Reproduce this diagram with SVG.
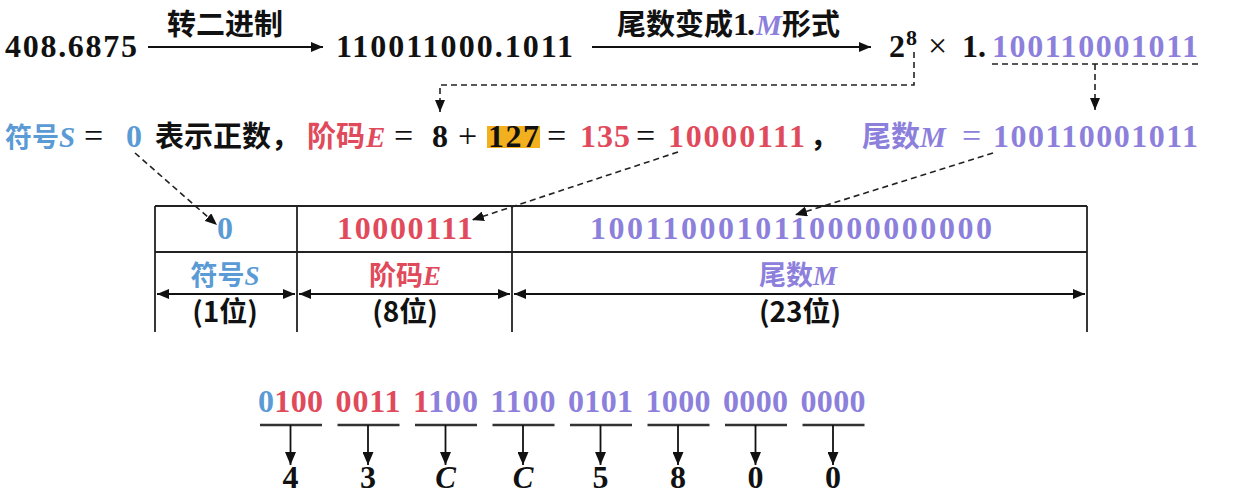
<svg xmlns="http://www.w3.org/2000/svg" width="1243" height="500" viewBox="0 0 1243 500">
<style>
.num{font-family:"Liberation Serif","DejaVu Serif",serif;font-weight:bold;font-size:32px;fill:#111}
.op{font-family:"Liberation Serif","DejaVu Serif",serif;font-size:34px;fill:#111}
.it{font-family:"Liberation Serif","DejaVu Serif",serif;font-style:italic;font-weight:bold;font-size:29px}
.cjk{font-family:"Noto Sans CJK SC","Noto Sans",sans-serif;font-weight:bold;font-size:29px;fill:#111}
.lab{font-family:"Noto Sans CJK SC","Noto Sans",sans-serif;font-weight:bold;font-size:27px}
.blue{fill:#5B9BD5}
.red{fill:#E04A5B}
.pur{fill:#8C80DC}
.blk{fill:#111}
.solid{stroke:#111;stroke-width:1.8;fill:none}
.dash{stroke:#222;stroke-width:1.6;fill:none;stroke-dasharray:6 4}
.tbl{stroke:#222;stroke-width:1.8;fill:none}
.ul{stroke:#333;stroke-width:2.4}
</style>
<defs>
<marker id="ah" viewBox="0 0 12 10" refX="12" refY="5" markerWidth="12" markerHeight="10" markerUnits="userSpaceOnUse" orient="auto-start-reverse"><path d="M0,0 L12,5 L0,10 z" fill="#111"/></marker>
<marker id="ahb" viewBox="0 0 13 11" refX="13" refY="5.5" markerWidth="13" markerHeight="11" markerUnits="userSpaceOnUse" orient="auto"><path d="M0,0 L13,5.5 L0,11 z" fill="#111"/></marker>
</defs>

<g id="row1">
<text class="num" x="5" y="57" textLength="132">408.6875</text>
<text class="cjk" x="225" y="35" text-anchor="middle">转二进制</text>
<text class="num" x="336" y="57" textLength="237">110011000.1011</text>
<text class="cjk" x="617" y="35">尾数变成</text>
<text class="num" x="733" y="35" textLength="22">1.</text>
<text class="it pur" x="756" y="35">M</text>
<text class="cjk" x="782" y="35">形式</text>
<text class="num" x="889" y="57">2</text>
<text class="num" x="906" y="45" style="font-size:22px">8</text>
<text class="op" x="928" y="57">×</text>
<text class="num" x="962" y="57" textLength="24">1.</text>
<text class="num pur" x="992" y="57" textLength="206">100110001011</text>
</g>

<g id="row2">
<text class="cjk blue" x="5" y="147" style="font-size:27px">符号</text>
<text class="it blue" x="59" y="147">S</text>
<text class="op" x="84" y="147">=</text>
<text class="num blue" x="126" y="147">0</text>
<text class="cjk" x="155" y="147">表示正数，</text>
<text class="cjk red" x="307" y="147">阶码</text>
<text class="it red" x="366" y="147">E</text>
<text class="op" x="394" y="147">=</text>
<text class="num" x="432" y="147">8</text>
<text class="op" x="458" y="147">+</text>
<rect x="487" y="126" width="53" height="22" fill="#F2B01E"/>
<text class="num" x="488" y="147" textLength="51">127</text>
<text class="op" x="547" y="147">=</text>
<text class="num red" x="580" y="147" textLength="50">135</text>
<text class="op" x="636" y="147">=</text>
<text class="num red" x="668" y="147" textLength="137">10000111</text>
<text class="cjk" x="810" y="147">，</text>
<text class="cjk pur" x="862" y="147">尾数</text>
<text class="it pur" x="920" y="147">M</text>
<text class="op pur" x="962" y="147">=</text>
<text class="num pur" x="993" y="147" textLength="205">100110001011</text>
</g>

<g id="table">
<line class="tbl" x1="155" y1="206" x2="1087" y2="206"/>
<line class="tbl" x1="155" y1="252" x2="1087" y2="252"/>
<line class="tbl" x1="155" y1="206" x2="155" y2="332"/>
<line class="tbl" x1="297" y1="206" x2="297" y2="332"/>
<line class="tbl" x1="512" y1="206" x2="512" y2="332"/>
<line class="tbl" x1="1087" y1="206" x2="1087" y2="332"/>
<text class="num blue" x="225" y="239" text-anchor="middle">0</text>
<text class="num red" x="337" y="239" textLength="136">10000111</text>
<text class="num pur" x="590" y="239" textLength="402">1001100010110000000000</text>
<text class="lab blue" x="225" y="285" text-anchor="middle">符号<tspan class="it" style="font-size:27px">S</tspan></text>
<text class="lab red" x="405" y="285" text-anchor="middle">阶码<tspan class="it" style="font-size:27px">E</tspan></text>
<text class="lab pur" x="798" y="285" text-anchor="middle">尾数<tspan class="it" style="font-size:27px">M</tspan></text>
<text class="lab blk" x="225" y="322" text-anchor="middle" style="font-size:28px">(1位)</text>
<text class="lab blk" x="405" y="322" text-anchor="middle" style="font-size:28px">(8位)</text>
<text class="lab blk" x="800" y="322" text-anchor="middle" style="font-size:28px">(23位)</text>
</g>

<g id="bits">
<text class="num" x="258" y="412" textLength="65"><tspan class="blue">0</tspan><tspan class="red">100</tspan></text>
<text class="num red" x="335.5" y="412" textLength="65">0011</text>
<text class="num" x="413" y="412" textLength="65"><tspan class="red">1</tspan><tspan class="pur">100</tspan></text>
<text class="num pur" x="490.5" y="412" textLength="65">1100</text>
<text class="num pur" x="568" y="412" textLength="65">0101</text>
<text class="num pur" x="645.5" y="412" textLength="65">1000</text>
<text class="num pur" x="723" y="412" textLength="65">0000</text>
<text class="num pur" x="800.5" y="412" textLength="65">0000</text>
</g>

<g id="hex">
<text class="num" x="290.5" y="488" text-anchor="middle">4</text>
<text class="num" x="368" y="488" text-anchor="middle">3</text>
<text class="it blk" x="445.5" y="488" text-anchor="middle" style="font-size:31px">C</text>
<text class="it blk" x="523" y="488" text-anchor="middle" style="font-size:31px">C</text>
<text class="num" x="600.5" y="488" text-anchor="middle">5</text>
<text class="num" x="678" y="488" text-anchor="middle">8</text>
<text class="num" x="755.5" y="488" text-anchor="middle">0</text>
<text class="num" x="833" y="488" text-anchor="middle">0</text>
</g>

<g id="connectors">
<line class="solid" x1="148" y1="47" x2="323" y2="47" marker-end="url(#ah)"/>
<line class="solid" x1="592" y1="47" x2="871" y2="47" marker-end="url(#ah)"/>
<polyline class="dash" points="914,52 914,85 440,85 440,112" marker-end="url(#ah)"/>
<line class="dash" x1="992" y1="64" x2="1198" y2="64"/>
<line class="dash" x1="1095" y1="64" x2="1095" y2="110" marker-end="url(#ah)"/>
<line class="dash" x1="135" y1="153" x2="217" y2="225" marker-end="url(#ah)"/>
<line class="dash" x1="678" y1="152" x2="472" y2="220" marker-end="url(#ah)"/>
<line class="dash" x1="993" y1="153" x2="795" y2="215" marker-end="url(#ah)"/>
<line class="solid" x1="157" y1="294" x2="295" y2="294" marker-start="url(#ah)" marker-end="url(#ah)"/>
<line class="solid" x1="299" y1="294" x2="510" y2="294" marker-start="url(#ah)" marker-end="url(#ah)"/>
<line class="solid" x1="514" y1="294" x2="1085" y2="294" marker-start="url(#ah)" marker-end="url(#ah)"/>
<g class="ul">
<line x1="260" y1="425" x2="322" y2="425"/>
<line x1="337.5" y1="425" x2="399.5" y2="425"/>
<line x1="415" y1="425" x2="477" y2="425"/>
<line x1="492.5" y1="425" x2="554.5" y2="425"/>
<line x1="570" y1="425" x2="632" y2="425"/>
<line x1="647.5" y1="425" x2="709.5" y2="425"/>
<line x1="725" y1="425" x2="787" y2="425"/>
<line x1="802.5" y1="425" x2="864.5" y2="425"/>
</g>
<line class="solid" x1="290.5" y1="425" x2="290.5" y2="465" marker-end="url(#ahb)"/>
<line class="solid" x1="368" y1="425" x2="368" y2="465" marker-end="url(#ahb)"/>
<line class="solid" x1="445.5" y1="425" x2="445.5" y2="465" marker-end="url(#ahb)"/>
<line class="solid" x1="523" y1="425" x2="523" y2="465" marker-end="url(#ahb)"/>
<line class="solid" x1="600.5" y1="425" x2="600.5" y2="465" marker-end="url(#ahb)"/>
<line class="solid" x1="678" y1="425" x2="678" y2="465" marker-end="url(#ahb)"/>
<line class="solid" x1="755.5" y1="425" x2="755.5" y2="465" marker-end="url(#ahb)"/>
<line class="solid" x1="833" y1="425" x2="833" y2="465" marker-end="url(#ahb)"/>
</g>
</svg>
